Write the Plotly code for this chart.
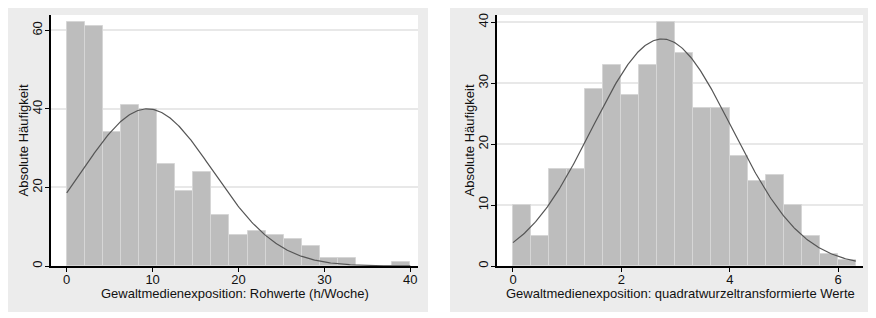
import numpy as np
import plotly.graph_objects as go

# ---------------- data ----------------
raw_counts = [62, 61, 34, 41, 40, 26, 19, 24, 13, 8, 9, 8, 7, 5, 2, 2, 0, 0, 1]
raw_min, raw_max = 0.0, 40.0
raw_mean, raw_sd = 9.4, 7.6

sqrt_counts = [10, 5, 16, 16, 29, 33, 28, 33, 40, 35, 26, 26, 18, 14, 15, 10, 5, 2, 1]
sqrt_min, sqrt_max = 0.0, 6.3246
sqrt_mean, sqrt_sd = 2.75, 1.29

left_title = "Gewaltmedienexposition: Rohwerte (h/Woche)"
right_title = "Gewaltmedienexposition: quadratwurzeltransformierte Werte"
y_title = "Absolute Häufigkeit"
left_xticks = [0, 10, 20, 30, 40]
left_yticks = [0, 20, 40, 60]
right_xticks = [0, 2, 4, 6]
right_yticks = [0, 10, 20, 30, 40]

OFF = 8  # page body margin
W, H = 876 - OFF, 318 - OFF
FONT = "Liberation Sans, Arial, sans-serif"
FS = 13
BAR = "#bdbdbd"
BAR_LINE = "#d6d6d6"
PANEL = "#ececec"
GRID = "#e8e8e8"
CURVE = "#555555"


def hist_parts(counts, lo, hi, mean, sd):
    n = len(counts)
    w = (hi - lo) / n
    centers = lo + w * (np.arange(n) + 0.5)
    total = sum(counts)
    xs = np.linspace(lo, hi, 300)
    ys = total * w / (sd * np.sqrt(2 * np.pi)) * np.exp(-((xs - mean) ** 2) / (2 * sd ** 2))
    return centers, w, xs, ys


fig = go.Figure()

# pixel geometry (page pixels)
L = dict(px0=51, px1=418, top=15, bot=266, panel=(4, 428))
R = dict(px0=497, px1=863, top=15, bot=266, panel=(450, 874))


def px_x(p):
    return (p - OFF) / W


def px_y(p):
    return 1 - (p - OFF) / H


for idx, (counts, lo, hi, mean, sd, geo, xr, yr, xt, yt, ttl) in enumerate([
    (raw_counts, raw_min, raw_max, raw_mean, raw_sd, L, [-1.83, 40.9], [0, 63.9], left_xticks, left_yticks, left_title),
    (sqrt_counts, sqrt_min, sqrt_max, sqrt_mean, sqrt_sd, R, [-0.295, 6.457], [0, 41.2], right_xticks, right_yticks, right_title),
]):
    sfx = "" if idx == 0 else "2"
    centers, w, xs, ys = hist_parts(counts, lo, hi, mean, sd)
    fig.add_trace(go.Bar(x=centers, y=counts, width=w, marker=dict(color=BAR, line=dict(color=BAR_LINE, width=1)),
                         xaxis="x" + sfx, yaxis="y" + sfx, showlegend=False))
    fig.add_trace(go.Scatter(x=xs, y=ys, mode="lines", line=dict(color=CURVE, width=1.2),
                             xaxis="x" + sfx, yaxis="y" + sfx, showlegend=False))
    xd = [px_x(geo["px0"]), px_x(geo["px1"])]
    yd = [px_y(geo["bot"]), px_y(geo["top"])]
    fig.update_layout(**{
        "xaxis" + sfx: dict(domain=xd, range=xr, tickvals=xt, ticks="outside", ticklen=4, tickcolor="black",
                            showline=True, linecolor="black", linewidth=1.5, showgrid=False, zeroline=False,
                            automargin=False, ticklabelstandoff=-3,
                            tickfont=dict(family=FONT, size=FS, color="#111"), anchor="y" + sfx),
        "yaxis" + sfx: dict(domain=yd, range=yr, tickvals=yt, ticks="outside", ticklen=4, tickcolor="black",
                            showline=True, linecolor="black", linewidth=1.5, showgrid=True, gridcolor=GRID,
                            gridwidth=1.5, zeroline=False, tickangle=-90, automargin=False,
                            ticklabelstandoff=-2,
                            tickfont=dict(family=FONT, size=FS, color="#111"), anchor="x" + sfx),
    })
    # panel background and white plot region
    fig.add_shape(type="rect", xref="paper", yref="paper", layer="below",
                  x0=px_x(geo["panel"][0]), x1=px_x(geo["panel"][1]), y0=px_y(312), y1=px_y(4),
                  fillcolor=PANEL, line=dict(width=0))
    fig.add_shape(type="rect", xref="paper", yref="paper", layer="below",
                  x0=xd[0], x1=xd[1], y0=yd[0], y1=yd[1], fillcolor="white", line=dict(width=0))
    # axis titles
    fig.add_annotation(text=ttl, xref="paper", yref="paper", x=(xd[0] + xd[1]) / 2, y=px_y(293),
                       showarrow=False, xanchor="center", yanchor="middle",
                       font=dict(family=FONT, size=FS, color="#111"))
    fig.add_annotation(text=y_title, xref="paper", yref="paper", x=px_x(geo["px0"] - 28), y=(yd[0] + yd[1]) / 2,
                       showarrow=False, xanchor="center", yanchor="middle", textangle=-90,
                       font=dict(family=FONT, size=FS, color="#111"))

fig.update_layout(width=W, height=H, margin=dict(l=0, r=0, t=0, b=0, autoexpand=False), bargap=0,
                  paper_bgcolor="white", plot_bgcolor="rgba(0,0,0,0)")

fig.write_html("out.html")
